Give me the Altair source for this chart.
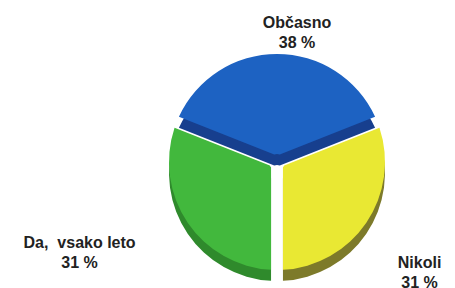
import math
import altair as alt
import pandas as pd

# ---- data ----
categories = ["Občasno", "Nikoli", "Da,  vsako leto"]
values = [38, 31, 31]
pct_labels = ["38 %", "31 %", "31 %"]

# ---- style ----
top_colors = ["#1d62c2", "#e9e833", "#42b83d"]
side_colors = ["#173f8e", "#7d7a2a", "#2f8a2c"]
FONT = "Liberation Sans"

total = sum(values)
cum = 0
rows = []
for c, v, p in zip(categories, values, pct_labels):
    rows.append({"cat": c, "value": v, "start": cum, "end": cum + v,
                 "mid": cum + v / 2,
                 "label": c.replace("  ", "\u00a0 ") + "\n" + p})
    cum += v
df = pd.DataFrame(rows)

a0 = -values[0] / total * math.pi
theta_scale = alt.Scale(domain=[0, total], range=[a0, a0 + 2 * math.pi])

CX, CY = 269, 154   # pie centre in view coordinates
R = 108
DEPTH = 11

base = alt.Chart(df)


def arcs(colors, y):
    return base.mark_arc(outerRadius=R, innerRadius=8, padAngle=0.11).encode(
        theta=alt.Theta("start:Q", scale=theta_scale, stack=None),
        theta2="end:Q",
        color=alt.Color("cat:N", scale=alt.Scale(domain=categories, range=colors), legend=None),
        x=alt.value(CX),
        y=alt.value(y),
    )


side = arcs(side_colors, CY + DEPTH)
top = arcs(top_colors, CY)


def label(cat, radius, dx, dy):
    return base.transform_filter(alt.datum.cat == cat).mark_text(
        radius=radius, dx=dx, dy=dy, font=FONT, fontSize=16, fontWeight="bold",
        color="#222222", lineBreak="\n", lineHeight=20, align="center", baseline="middle",
    ).encode(
        theta=alt.Theta("mid:Q", scale=theta_scale, stack=None),
        text="label:N",
        x=alt.value(CX),
        y=alt.value(CY),
    )


chart = alt.layer(
    side, top,
    label("Občasno", 129, 20, -10),
    label("Nikoli", 176, -3, 2),
    label("Da,  vsako leto", 200, -32, -31),
).resolve_scale(color="independent").properties(
    width=439, height=280, padding=0, autosize="none"
).configure_view(stroke=None)

chart.save("out.html", embed_options={"renderer": "svg", "actions": False})
